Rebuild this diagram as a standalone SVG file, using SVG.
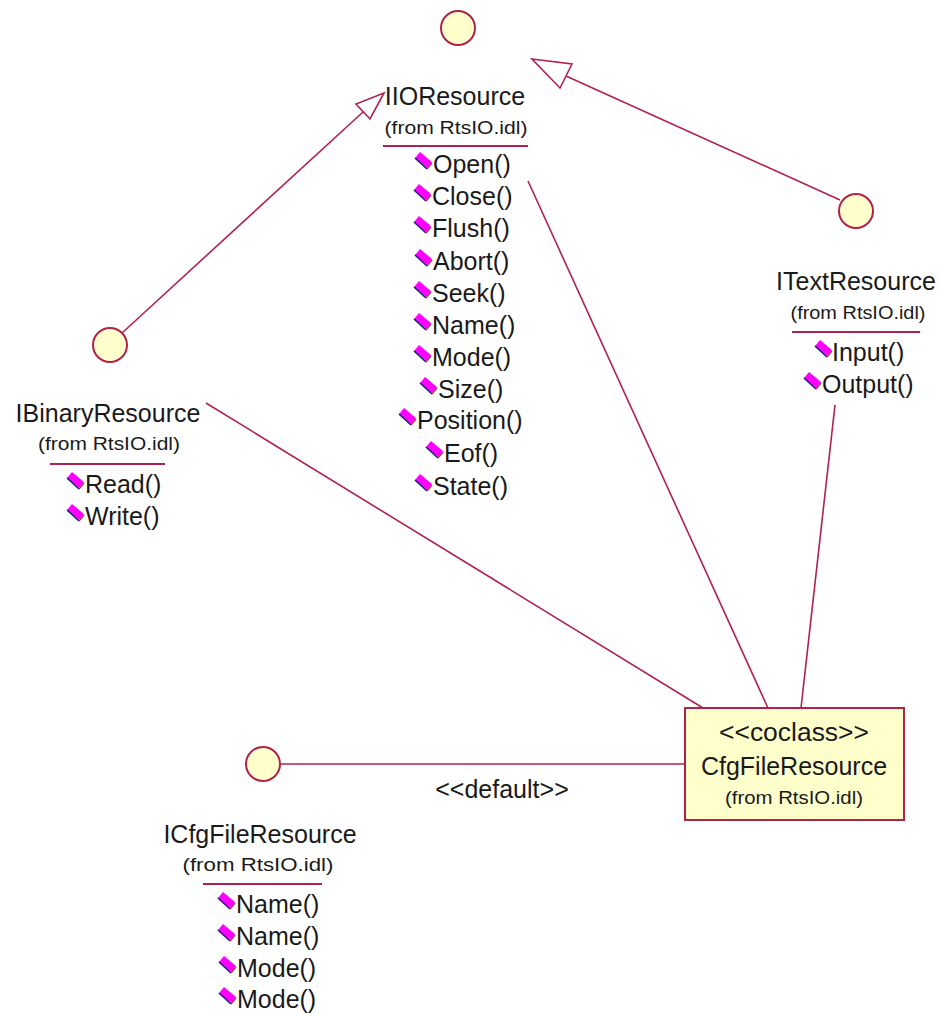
<svg xmlns="http://www.w3.org/2000/svg" width="941" height="1015" viewBox="0 0 941 1015">
  <style>
    .lollipop { fill: #FFFFCC; stroke: #B0224E; stroke-width: 2; }
    .conn { stroke: #B0224E; stroke-width: 1.6; fill: none; }
    .head { stroke: #B0224E; stroke-width: 1.6; fill: #FFFFFF; }
    .rule { stroke: #B0224E; stroke-width: 2; }
    .name { font-family: "Liberation Sans", Arial, sans-serif; font-size: 25px; fill: #1a1a1a; text-anchor: middle; }
    .from { font-family: "Liberation Sans", Arial, sans-serif; font-size: 18px; fill: #1a1a1a; text-anchor: middle; }
    .op { font-family: "Liberation Sans", Arial, sans-serif; font-size: 25px; fill: #1a1a1a; }
    .box { fill: #FFFFCC; stroke: #B0224E; stroke-width: 2; }
  </style>
  <defs>
    <!-- public operation icon: tilted magenta tile with dark lower-left edge -->
    <g id="opIcon">
      <polygon points="0,6 5,0 17,10 12,16" fill="#FF00FF"/>
      <polyline points="0,6 12,17" fill="none" stroke="#1a1a80" stroke-width="1.6"/>
      <polyline points="12,17 17,11" fill="none" stroke="#C02040" stroke-width="1.2"/>
    </g>
  </defs>

  <!-- connectors -->
  <g id="connectors">
    <!-- IBinaryResource realizes IIOResource -->
    <line class="conn" x1="122" y1="333" x2="363" y2="112"/>
    <polygon class="head" points="384,93 370,119 356,104"/>
    <!-- ITextResource realizes IIOResource -->
    <line class="conn" x1="840" y1="200" x2="566" y2="76"/>
    <polygon class="head" points="532,59 572,64 560,88"/>
    <!-- coclass implements the interfaces -->
    <line class="conn" x1="528" y1="181" x2="768" y2="708"/>
    <line class="conn" x1="206" y1="403" x2="703" y2="708"/>
    <line class="conn" x1="835" y1="405" x2="801" y2="708"/>
    <line class="conn" x1="280" y1="764" x2="684" y2="764"/>
    <text class="name" x="502" y="798">&lt;&lt;default&gt;&gt;</text>
  </g>

  <!-- IIOResource interface -->
  <g id="IIOResource">
    <circle class="lollipop" cx="458" cy="28" r="17"/>
    <text class="name" x="455" y="105">IIOResource</text>
    <text class="from" x="456" y="134" textLength="143" lengthAdjust="spacingAndGlyphs">(from RtsIO.idl)</text>
    <line class="rule" x1="383" y1="146" x2="528" y2="146"/>
    <use href="#opIcon" x="415" y="152"/><text class="op" x="433" y="173">Open()</text>
    <use href="#opIcon" x="414" y="184"/><text class="op" x="432" y="205">Close()</text>
    <use href="#opIcon" x="414" y="216"/><text class="op" x="432" y="237">Flush()</text>
    <use href="#opIcon" x="415" y="249"/><text class="op" x="433" y="270">Abort()</text>
    <use href="#opIcon" x="414" y="281"/><text class="op" x="432" y="302">Seek()</text>
    <use href="#opIcon" x="414" y="313"/><text class="op" x="432" y="334">Name()</text>
    <use href="#opIcon" x="414" y="345"/><text class="op" x="432" y="366">Mode()</text>
    <use href="#opIcon" x="420" y="377"/><text class="op" x="438" y="398">Size()</text>
    <use href="#opIcon" x="399" y="408"/><text class="op" x="417" y="429">Position()</text>
    <use href="#opIcon" x="426" y="441"/><text class="op" x="444" y="462">Eof()</text>
    <use href="#opIcon" x="415" y="474"/><text class="op" x="433" y="495">State()</text>
  </g>

  <!-- ITextResource interface -->
  <g id="ITextResource">
    <circle class="lollipop" cx="856" cy="211" r="17"/>
    <text class="name" x="856" y="290">ITextResource</text>
    <text class="from" x="858" y="319" textLength="135" lengthAdjust="spacingAndGlyphs">(from RtsIO.idl)</text>
    <line class="rule" x1="792" y1="332" x2="920" y2="332"/>
    <use href="#opIcon" x="815" y="340"/><text class="op" x="832" y="361">Input()</text>
    <use href="#opIcon" x="804" y="372"/><text class="op" x="822" y="393">Output()</text>
  </g>

  <!-- IBinaryResource interface -->
  <g id="IBinaryResource">
    <circle class="lollipop" cx="110" cy="345" r="17"/>
    <text class="name" x="108" y="422">IBinaryResource</text>
    <text class="from" x="109" y="450" textLength="142" lengthAdjust="spacingAndGlyphs">(from RtsIO.idl)</text>
    <line class="rule" x1="50" y1="464" x2="165" y2="464"/>
    <use href="#opIcon" x="67" y="472"/><text class="op" x="85" y="493">Read()</text>
    <use href="#opIcon" x="67" y="504"/><text class="op" x="85" y="525">Write()</text>
  </g>

  <!-- ICfgFileResource interface -->
  <g id="ICfgFileResource">
    <circle class="lollipop" cx="263" cy="764" r="17"/>
    <text class="name" x="260" y="843">ICfgFileResource</text>
    <text class="from" x="258" y="871" textLength="151" lengthAdjust="spacingAndGlyphs">(from RtsIO.idl)</text>
    <line class="rule" x1="203" y1="884" x2="322" y2="884"/>
    <use href="#opIcon" x="218" y="892"/><text class="op" x="236" y="913">Name()</text>
    <use href="#opIcon" x="218" y="924"/><text class="op" x="236" y="945">Name()</text>
    <use href="#opIcon" x="219" y="956"/><text class="op" x="237" y="977">Mode()</text>
    <use href="#opIcon" x="219" y="987"/><text class="op" x="237" y="1008">Mode()</text>
  </g>

  <!-- CfgFileResource coclass -->
  <g id="CfgFileResource">
    <rect class="box" x="685" y="708" width="219" height="112"/>
    <text class="name" x="794" y="741" textLength="150" lengthAdjust="spacingAndGlyphs">&lt;&lt;coclass&gt;&gt;</text>
    <text class="name" x="794" y="775">CfgFileResource</text>
    <text class="from" x="794" y="804" textLength="138" lengthAdjust="spacingAndGlyphs">(from RtsIO.idl)</text>
  </g>
</svg>
